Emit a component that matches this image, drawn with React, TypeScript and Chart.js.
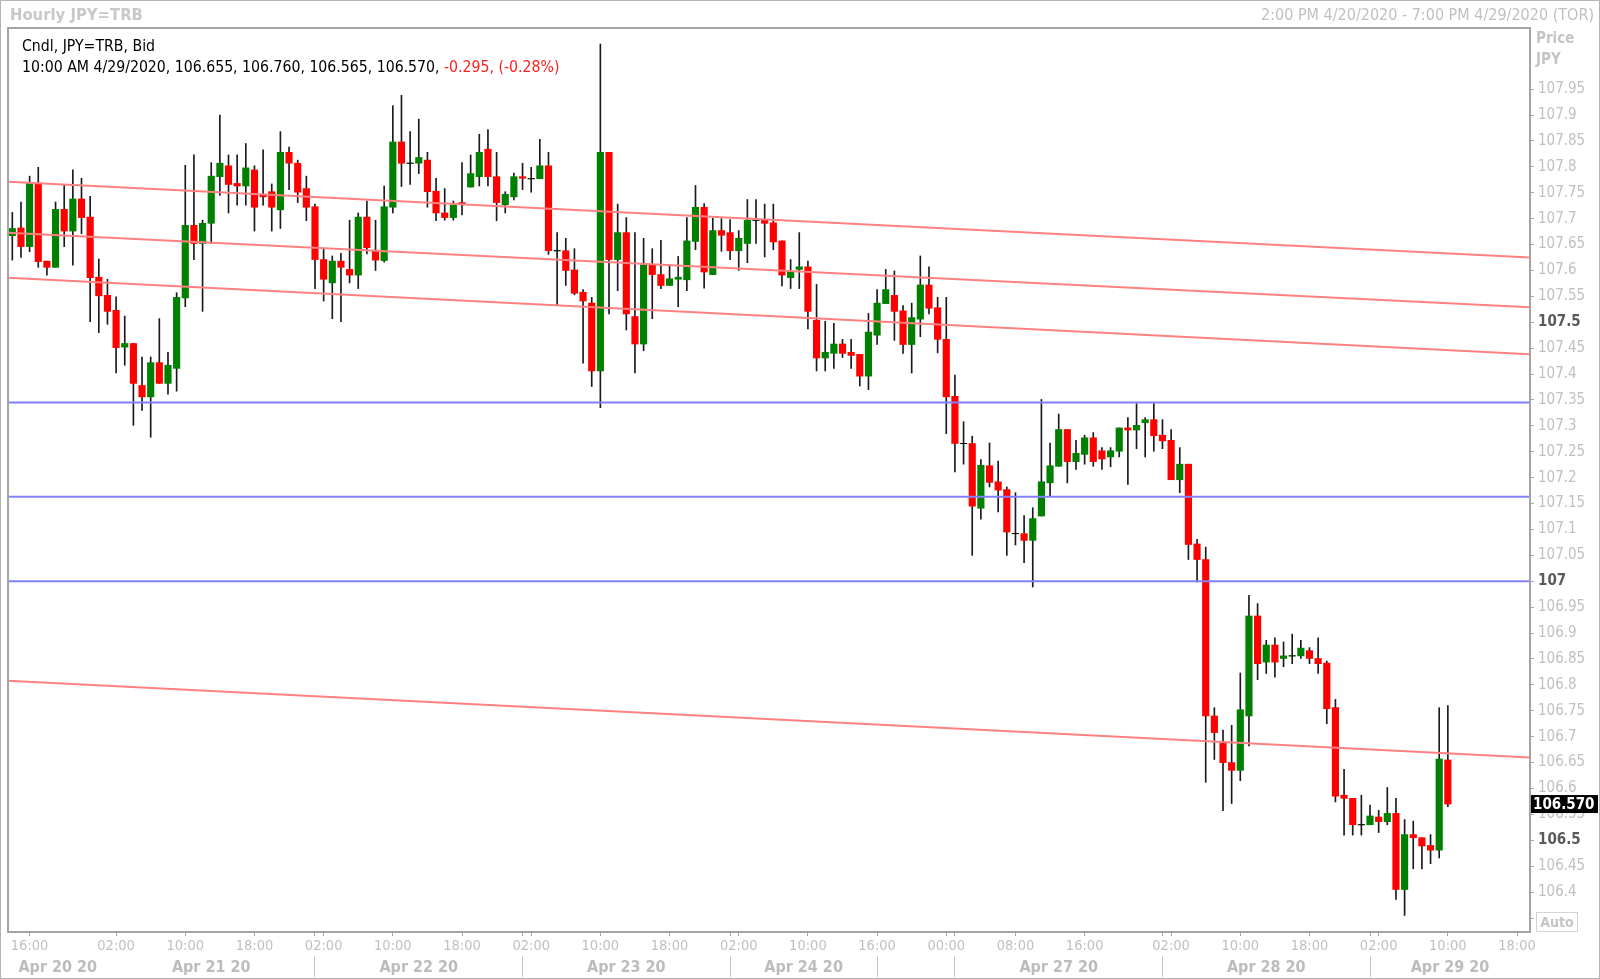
import React, { useEffect, useRef } from "react";
import { Chart, registerables } from "chart.js";

Chart.register(...registerables);

const FONT = "'DejaVu Sans Condensed', 'DejaVu Sans', sans-serif";

// Hourly candles, slot index = position in arrays (slot 0 = 2:00 PM 4/20/2020)
const opens = [
  107.667, 107.682, 107.646, 107.769, 107.618, 107.606, 107.718, 107.676, 107.738, 107.703,
  107.587, 107.552, 107.523, 107.452, 107.459, 107.378, 107.356, 107.422, 107.382, 107.411,
  107.547, 107.687, 107.652, 107.691, 107.781, 107.802, 107.768, 107.763, 107.794, 107.745,
  107.752, 107.717, 107.828, 107.807, 107.758, 107.723, 107.621, 107.576, 107.618, 107.602,
  107.591, 107.703, 107.639, 107.619, 107.722, 107.848, 107.807, 107.807, 107.813, 107.753,
  107.711, 107.702, 107.731, 107.761, 107.781, 107.834, 107.781, 107.727, 107.742, 107.781,
  107.777, 107.777, 107.802, 107.638, 107.638, 107.601, 107.558, 107.537, 107.406, 107.828,
  107.621, 107.673, 107.511, 107.458, 107.611, 107.592, 107.571, 107.583, 107.582, 107.656,
  107.722, 107.592, 107.677, 107.673, 107.638, 107.652, 107.697, 107.697, 107.692, 107.657,
  107.586, 107.602, 107.607, 107.504, 107.431, 107.44, 107.458, 107.442, 107.438, 107.396,
  107.475, 107.536, 107.552, 107.522, 107.457, 107.506, 107.572, 107.528, 107.467, 107.357,
  107.266, 107.266, 107.141, 107.223, 107.192, 107.177, 107.092, 107.092, 107.079, 107.126,
  107.19, 107.222, 107.293, 107.231, 107.245, 107.277, 107.252, 107.24, 107.251, 107.296,
  107.292, 107.306, 107.312, 107.282, 107.272, 107.196, 107.226, 107.072, 107.042, 106.74,
  106.687, 106.65, 106.635, 106.74, 106.933, 106.844, 106.877, 106.851, 106.856, 106.856,
  106.866, 106.851, 106.842, 106.756, 106.587, 106.581, 106.53, 106.53, 106.545, 106.536,
  106.552, 106.405, 106.511, 106.505, 106.49, 106.481, 106.655,
];
const highs = [
  107.712, 107.732, 107.782, 107.799, 107.618, 107.732, 107.765, 107.794, 107.778, 107.743,
  107.622, 107.583, 107.549, 107.512, 107.459, 107.433, 107.433, 107.507, 107.442, 107.557,
  107.803, 107.823, 107.697, 107.808, 107.9, 107.823, 107.823, 107.845, 107.802, 107.833,
  107.767, 107.868, 107.838, 107.813, 107.782, 107.728, 107.642, 107.628, 107.633, 107.697,
  107.711, 107.734, 107.697, 107.763, 107.918, 107.938, 107.868, 107.892, 107.828, 107.778,
  107.758, 107.734, 107.808, 107.823, 107.863, 107.872, 107.828, 107.752, 107.788, 107.807,
  107.799, 107.853, 107.828, 107.673, 107.662, 107.642, 107.563, 107.548, 108.037, 107.828,
  107.728, 107.702, 107.673, 107.662, 107.642, 107.658, 107.61, 107.627, 107.702, 107.764,
  107.729, 107.701, 107.7, 107.698, 107.677, 107.737, 107.737, 107.728, 107.728, 107.657,
  107.621, 107.673, 107.618, 107.573, 107.502, 107.498, 107.467, 107.467, 107.438, 107.517,
  107.563, 107.602, 107.599, 107.532, 107.537, 107.628, 107.607, 107.548, 107.548, 107.398,
  107.308, 107.28, 107.235, 107.267, 107.232, 107.182, 107.171, 107.127, 107.142, 107.351,
  107.267, 107.323, 107.293, 107.272, 107.282, 107.287, 107.258, 107.258, 107.296, 107.316,
  107.343, 107.316, 107.343, 107.312, 107.293, 107.258, 107.226, 107.081, 107.066, 106.756,
  106.713, 106.722, 106.823, 106.973, 106.957, 106.886, 106.891, 106.883, 106.898, 106.886,
  106.872, 106.891, 106.846, 106.772, 106.637, 106.581, 106.587, 106.568, 106.558, 106.602,
  106.581, 106.54, 106.537, 106.505, 106.511, 106.756, 106.76,
];
const lows = [
  107.62, 107.625, 107.636, 107.606, 107.591, 107.606, 107.646, 107.61, 107.671, 107.501,
  107.48, 107.496, 107.402, 107.417, 107.301, 107.33, 107.278, 107.382, 107.361, 107.367,
  107.53, 107.621, 107.521, 107.652, 107.745, 107.711, 107.726, 107.726, 107.676, 107.726,
  107.676, 107.681, 107.756, 107.731, 107.696, 107.565, 107.541, 107.507, 107.501, 107.576,
  107.565, 107.632, 107.6, 107.616, 107.711, 107.762, 107.766, 107.787, 107.722, 107.696,
  107.697, 107.697, 107.707, 107.761, 107.763, 107.763, 107.696, 107.711, 107.736, 107.756,
  107.751, 107.777, 107.631, 107.534, 107.571, 107.553, 107.421, 107.376, 107.335, 107.516,
  107.561, 107.485, 107.402, 107.445, 107.507, 107.565, 107.571, 107.53, 107.561, 107.64,
  107.566, 107.592, 107.637, 107.621, 107.6, 107.615, 107.652, 107.626, 107.64, 107.57,
  107.565, 107.565, 107.487, 107.406, 107.406, 107.411, 107.432, 107.411, 107.377, 107.37,
  107.457, 107.536, 107.465, 107.44, 107.402, 107.472, 107.516, 107.441, 107.285, 107.211,
  107.226, 107.05, 107.12, 107.182, 107.134, 107.05, 107.07, 107.036, 106.989, 107.126,
  107.164, 107.222, 107.19, 107.216, 107.226, 107.222, 107.216, 107.221, 107.24, 107.187,
  107.256, 107.24, 107.251, 107.256, 107.196, 107.171, 107.042, 106.999, 106.612, 106.656,
  106.557, 106.571, 106.615, 106.682, 106.81, 106.822, 106.815, 106.835, 106.841, 106.851,
  106.841, 106.822, 106.725, 106.574, 106.51, 106.51, 106.51, 106.53, 106.515, 106.53,
  106.386, 106.355, 106.445, 106.445, 106.455, 106.466, 106.565,
];
const closes = [
  107.681, 107.646, 107.768, 107.617, 107.606, 107.718, 107.676, 107.738, 107.702, 107.586,
  107.551, 107.521, 107.451, 107.459, 107.382, 107.356, 107.422, 107.382, 107.417, 107.548,
  107.687, 107.652, 107.691, 107.782, 107.807, 107.766, 107.763, 107.798, 107.722, 107.742,
  107.722, 107.828, 107.807, 107.751, 107.722, 107.621, 107.583, 107.618, 107.606, 107.591,
  107.703, 107.644, 107.62, 107.723, 107.848, 107.807, 107.807, 107.818, 107.752, 107.711,
  107.702, 107.726, 107.727, 107.787, 107.828, 107.781, 107.731, 107.747, 107.781, 107.778,
  107.777, 107.802, 107.638, 107.638, 107.6, 107.556, 107.541, 107.406, 107.828, 107.621,
  107.673, 107.516, 107.458, 107.611, 107.592, 107.571, 107.584, 107.587, 107.657, 107.722,
  107.597, 107.677, 107.668, 107.638, 107.662, 107.697, 107.697, 107.691, 107.655, 107.591,
  107.597, 107.607, 107.521, 107.431, 107.442, 107.458, 107.44, 107.436, 107.396, 107.481,
  107.537, 107.563, 107.521, 107.457, 107.509, 107.572, 107.527, 107.467, 107.356, 107.266,
  107.266, 107.145, 107.224, 107.191, 107.176, 107.095, 107.092, 107.079, 107.121, 107.192,
  107.223, 107.293, 107.231, 107.247, 107.277, 107.231, 107.236, 107.252, 107.296, 107.292,
  107.301, 107.312, 107.281, 107.271, 107.196, 107.226, 107.071, 107.042, 106.74, 106.708,
  106.65, 106.635, 106.752, 106.933, 106.841, 106.877, 106.844, 106.856, 106.856, 106.871,
  106.851, 106.841, 106.754, 106.585, 106.581, 106.53, 106.53, 106.547, 106.536, 106.552,
  106.405, 106.511, 106.505, 106.489, 106.481, 106.657, 106.57,
];

const SLOT_MIN = -0.5;
const SLOT_MAX = 175.5;

const timeTickSlots = [2, 12, 20, 28, 36, 44, 52, 60, 68, 76, 84, 92, 100, 108, 116, 124, 134, 142, 150, 158, 166, 174];
const timeTickLabels = ["16:00", "02:00", "10:00", "18:00", "02:00", "10:00", "18:00", "02:00", "10:00", "18:00", "02:00", "10:00", "16:00", "00:00", "08:00", "16:00", "02:00", "10:00", "18:00", "02:00", "10:00", "18:00"];
const daySeparatorSlots = [35, 59, 83, 100, 109, 133, 157];
const dateLabelSlots = [5.25, 23, 47, 71, 91.5, 121, 145, 166.25];
const dateLabels = ["Apr 20 20", "Apr 21 20", "Apr 22 20", "Apr 23 20", "Apr 24 20", "Apr 27 20", "Apr 28 20", "Apr 29 20"];

const yMin = 106.323;
const yMax = 108.068;
const yTickValues = [106.35, 106.4, 106.45, 106.5, 106.55, 106.6, 106.65, 106.7, 106.75, 106.8, 106.85, 106.9, 106.95, 107, 107.05, 107.1, 107.15, 107.2, 107.25, 107.3, 107.35, 107.4, 107.45, 107.5, 107.55, 107.6, 107.65, 107.7, 107.75, 107.8, 107.85, 107.9, 107.95];
const yTickLabels = ["", "106.4", "106.45", "106.5", "106.55", "106.6", "106.65", "106.7", "106.75", "106.8", "106.85", "106.9", "106.95", "107", "107.05", "107.1", "107.15", "107.2", "107.25", "107.3", "107.35", "107.4", "107.45", "107.5", "107.55", "107.6", "107.65", "107.7", "107.75", "107.8", "107.85", "107.9", "107.95"];
const yMajorTicks = [106.5, 107, 107.5];

const supportLevels = [107.345, 107.163, 107.0];
const trendStartValues = [107.771, 107.673, 107.586, 106.808];
const trendEndValues = [107.625, 107.529, 107.438, 106.66];

const GREEN = "#008000";
const RED = "#ff0000";

export default function App() {
  const canvasRef = useRef<HTMLCanvasElement | null>(null);

  useEffect(() => {
    document.body.style.margin = "0";
    const canvas = canvasRef.current;
    if (!canvas) return;
    Chart.defaults.font.family = FONT;

    const lastClose = closes[closes.length - 1];

    const bodies = opens.map((o, i) => ({ x: i, y: [o, closes[i]] }));
    const wicks = lows.map((l, i) => ({ x: i, y: [l, highs[i]] }));
    const bodyColors = opens.map((o, i) => (closes[i] >= o ? GREEN : RED));
    const dojis = opens
      .map((o, i) => ({ x: i, y: o, d: Math.abs(o - closes[i]) < 0.0008 }))
      .filter((p) => p.d)
      .map((p) => ({ x: p.x, y: p.y }));

    const lineSets: any[] = [];
    trendStartValues.forEach((v, k) => {
      lineSets.push({
        type: "line",
        data: [{ x: SLOT_MIN, y: v }, { x: SLOT_MAX, y: trendEndValues[k] }],
        borderColor: "#ff8080",
        borderWidth: 2,
        pointRadius: 0,
        order: 0,
      });
    });
    supportLevels.forEach((v) => {
      lineSets.push({
        type: "line",
        data: [{ x: SLOT_MIN, y: v }, { x: SLOT_MAX, y: v }],
        borderColor: "#8080ff",
        borderWidth: 2,
        pointRadius: 0,
        order: 0,
      });
    });

    const timeMap = new Map<number, string>();
    timeTickSlots.forEach((s, i) => timeMap.set(s, timeTickLabels[i]));
    const dateMap = new Map<number, string>();
    dateLabelSlots.forEach((s, i) => dateMap.set(s, dateLabels[i]));

    const decor = {
      id: "decor",
      afterDraw(chart: any) {
        const { ctx, chartArea: a, scales } = chart;
        ctx.save();
        ctx.strokeStyle = "#a4a4a4";
        ctx.lineWidth = 2;
        ctx.strokeRect(a.left, a.top, a.right - a.left, a.bottom - a.top);
        const y = scales.y.getPixelForValue(lastClose);
        ctx.fillStyle = "#000";
        ctx.fillRect(a.right + 1, y - 9, 67, 18);
        ctx.fillStyle = "#fff";
        ctx.font = `bold 15px ${FONT}`;
        ctx.textBaseline = "middle";
        ctx.textAlign = "left";
        ctx.fillText(lastClose.toFixed(3), a.right + 3, y + 1);
        ctx.restore();
      },
    };

    const chart = new Chart(canvas, {
      type: "bar",
      data: {
        datasets: [
          ...lineSets,
          {
            type: "scatter",
            data: dojis,
            pointStyle: "line",
            pointRadius: 3.5,
            borderColor: "#000",
            borderWidth: 1,
            order: 1,
          } as any,
          {
            type: "bar",
            data: bodies as any,
            backgroundColor: bodyColors,
            barThickness: 6.5,
            grouped: false,
            borderWidth: 0,
            order: 2,
          } as any,
          {
            type: "bar",
            data: wicks as any,
            backgroundColor: "#1a1a1a",
            barThickness: 1,
            grouped: false,
            borderWidth: 0,
            order: 3,
          } as any,
        ],
      },
      options: {
        animation: false,
        responsive: true,
        maintainAspectRatio: false,
        layout: { padding: { left: 8, top: 28, right: 0, bottom: 0 } },
        plugins: { legend: { display: false }, tooltip: { enabled: false }, title: { display: false } },
        scales: {
          x: {
            type: "linear",
            position: "bottom",
            min: SLOT_MIN,
            max: SLOT_MAX,
            offset: false,
            weight: 0,
            border: { display: false },
            grid: { drawOnChartArea: false, offset: false, tickLength: 4, color: "#a8a8a8" },
            afterBuildTicks: (scale: any) => {
              const all = Array.from(new Set([...timeTickSlots, ...daySeparatorSlots])).sort((p, q) => p - q);
              scale.ticks = all.map((v) => ({ value: v }));
            },
            afterFit: (scale: any) => {
              scale.height = 24;
            },
            ticks: {
              autoSkip: false,
              maxRotation: 0,
              minRotation: 0,
              padding: 2,
              color: "#c0c0c0",
              font: { size: 14.5 },
              callback: (v: any) => timeMap.get(Number(v)) ?? "",
            },
          },
          x2: {
            type: "linear",
            position: "bottom",
            min: SLOT_MIN,
            max: SLOT_MAX,
            offset: false,
            weight: 1,
            border: { display: false },
            grid: {
              drawOnChartArea: false,
              offset: false,
              tickLength: 21,
              color: (ctx: any) =>
                ctx.tick && daySeparatorSlots.includes(ctx.tick.value) ? "#c4c4c4" : "rgba(0,0,0,0)",
            },
            afterBuildTicks: (scale: any) => {
              const all = [...daySeparatorSlots, ...dateLabelSlots].sort((p, q) => p - q);
              scale.ticks = all.map((v) => ({ value: v }));
            },
            afterFit: (scale: any) => {
              scale.height = 23;
            },
            ticks: {
              autoSkip: false,
              maxRotation: 0,
              minRotation: 0,
              padding: -19,
              color: "#bcbcbc",
              font: { size: 16, weight: "bold" },
              callback: (v: any) => dateMap.get(Number(v)) ?? "",
            },
          },
          y: {
            type: "linear",
            position: "right",
            min: yMin,
            max: yMax,
            border: { display: false },
            grid: { drawOnChartArea: false, offset: false, tickLength: 4, color: "#a8a8a8" },
            afterBuildTicks: (scale: any) => {
              scale.ticks = yTickValues.map((v) => ({ value: v }));
            },
            afterFit: (scale: any) => {
              scale.width = 70;
            },
            ticks: {
              autoSkip: false,
              padding: 4,
              color: (ctx: any) =>
                ctx.tick && yMajorTicks.includes(ctx.tick.value) ? "#5a5a5a" : "#c0c0c0",
              font: (ctx: any) =>
                ctx.tick && yMajorTicks.includes(ctx.tick.value)
                  ? { size: 15, weight: "bold" }
                  : { size: 15, weight: "normal" },
              callback: (v: any) => {
                const idx = yTickValues.findIndex((t) => Math.abs(t - Number(v)) < 1e-6);
                return idx >= 0 ? yTickLabels[idx] : "";
              },
            },
          },
        },
      } as any,
      plugins: [decor],
    });

    return () => chart.destroy();
  }, []);

  const textBase: React.CSSProperties = {
    position: "absolute",
    fontFamily: FONT,
    fontSize: 16,
    height: 20,
    lineHeight: "20px",
    whiteSpace: "nowrap",
  };

  return (
    <div style={{ position: "relative", width: 1600, height: 979, background: "#fff", overflow: "hidden" }}>
      <canvas ref={canvasRef} style={{ position: "absolute", left: 0, top: 0 }} />
      <div style={{ ...textBase, left: 10, top: 5, fontWeight: "bold", color: "#c8c8c8", fontSize: 16.5 }}>Hourly JPY=TRB</div>
      <div style={{ ...textBase, right: 6, top: 5, color: "#c0c0c0", textAlign: "right" }}>
        2:00 PM 4/20/2020 - 7:00 PM 4/29/2020 (TOR)
      </div>
      <div style={{ ...textBase, left: 22, top: 36, color: "#000", fontSize: 15.7 }}>Cndl, JPY=TRB, Bid</div>
      <div style={{ ...textBase, left: 22, top: 57, color: "#000", fontSize: 15.7 }}>
        10:00 AM 4/29/2020, 106.655, 106.760, 106.565, 106.570,{" "}
        <span style={{ color: "#ff2020" }}>-0.295, (-0.28%)</span>
      </div>
      <div style={{ ...textBase, left: 1536, top: 28, fontWeight: "bold", color: "#c4c4c4", fontSize: 15 }}>Price</div>
      <div style={{ ...textBase, left: 1536, top: 49, fontWeight: "bold", color: "#c4c4c4", fontSize: 15 }}>JPY</div>
      <div
        style={{
          ...textBase,
          left: 1536,
          top: 912,
          width: 40,
          height: 18,
          lineHeight: "18px",
          border: "1px solid #d4d4d4",
          fontWeight: "bold",
          color: "#c4c4c4",
          fontSize: 14,
          textAlign: "center",
        }}
      >
        Auto
      </div>
      <div
        style={{
          position: "absolute",
          inset: 0,
          border: "1px solid #b4b4b4",
          boxSizing: "border-box",
          pointerEvents: "none",
        }}
      />
    </div>
  );
}
